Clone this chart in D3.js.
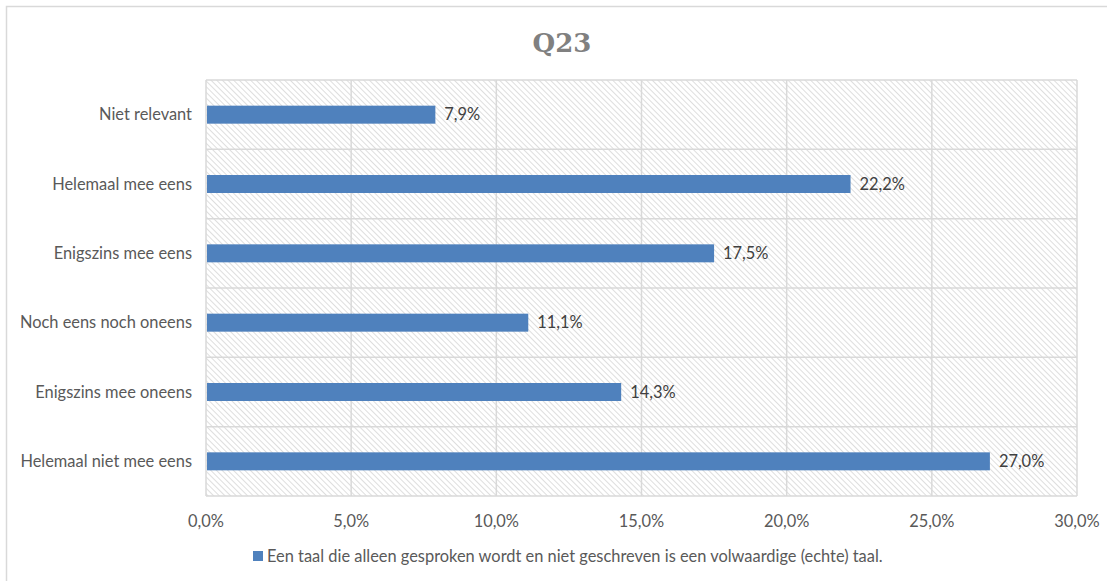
<!DOCTYPE html>
<html>
<head>
<meta charset="utf-8">
<script src="https://cdn.jsdelivr.net/npm/d3@7"></script>
<style>
  html, body { margin: 0; padding: 0; background: #fff; }
  svg { display: block; }
</style>
</head>
<body>
<svg id="chart" width="1107" height="581"></svg>
<script>
// Survey answers to Q23 (top to bottom) and their shares in percent
const categories = [
  "Niet relevant",
  "Helemaal mee eens",
  "Enigszins mee eens",
  "Noch eens noch oneens",
  "Enigszins mee oneens",
  "Helemaal niet mee eens"
];
const values = [7.9, 22.2, 17.5, 11.1, 14.3, 27.0];
const xTicks = [0, 5, 10, 15, 20, 25, 30];
const seriesName = "Een taal die alleen gesproken wordt en niet geschreven is een volwaardige (echte) taal.";
const chartTitle = "Q23";

const svg = d3.select("#chart");
const W = 1107, H = 581;
const plot = { left: 206, top: 80, right: 1077, bottom: 496 };
const labelFont = "Lato, 'Open Sans', sans-serif";
const fs = 16.4;
const fmt = v => d3.format(".1f")(v).replace(".", ",") + "%";

// Outer chart frame
svg.append("rect")
  .attr("x", 6.5).attr("y", 6.5)
  .attr("width", W + 10).attr("height", H + 10)
  .attr("fill", "none").attr("stroke", "#d9d9d9").attr("stroke-width", 1.5);

// Diagonal hatch for the plot background
const defs = svg.append("defs");
const pat = defs.append("pattern")
  .attr("id", "hatch")
  .attr("patternUnits", "userSpaceOnUse")
  .attr("width", 4).attr("height", 4)
  .attr("patternTransform", "rotate(-45)");
pat.append("rect").attr("width", 4).attr("height", 4).attr("fill", "#ffffff");
pat.append("line")
  .attr("x1", 0).attr("y1", 0).attr("x2", 0).attr("y2", 4)
  .attr("stroke", "#d6d6d6").attr("stroke-width", 1.6);

const x = d3.scaleLinear().domain([0, 30]).range([plot.left, plot.right]);
const y = d3.scaleBand().domain(categories).range([plot.top, plot.bottom]).paddingInner(0).paddingOuter(0);
const barH = 18;

svg.append("rect")
  .attr("x", plot.left).attr("y", plot.top)
  .attr("width", plot.right - plot.left).attr("height", plot.bottom - plot.top)
  .attr("fill", "url(#hatch)");

// Vertical gridlines
svg.append("g")
  .selectAll("line")
  .data(xTicks)
  .join("line")
  .attr("x1", d => x(d)).attr("x2", d => x(d))
  .attr("y1", plot.top).attr("y2", plot.bottom)
  .attr("stroke", "#d9d9d9").attr("stroke-width", 1.5);

// Horizontal gridlines at category boundaries
const bounds = categories.map(c => y(c)).concat([plot.bottom]);
svg.append("g")
  .selectAll("line")
  .data(bounds)
  .join("line")
  .attr("x1", plot.left).attr("x2", plot.right)
  .attr("y1", d => d).attr("y2", d => d)
  .attr("stroke", "#d9d9d9").attr("stroke-width", 1.5);

// Bars
svg.append("g")
  .selectAll("rect")
  .data(categories)
  .join("rect")
  .attr("x", x(0) + 1)
  .attr("y", d => y(d) + y.bandwidth() / 2 - barH / 2)
  .attr("width", (d, i) => x(values[i]) - x(0) - 1)
  .attr("height", barH)
  .attr("fill", "#4f81bd");

// Value labels
svg.append("g")
  .selectAll("text")
  .data(categories)
  .join("text")
  .attr("x", (d, i) => x(values[i]) + 9)
  .attr("y", d => y(d) + y.bandwidth() / 2)
  .attr("dy", "0.35em")
  .attr("font-family", labelFont)
  .attr("font-size", fs)
  .attr("fill", "#404040")
  .text((d, i) => fmt(values[i]));

// Category axis labels
svg.append("g")
  .selectAll("text")
  .data(categories)
  .join("text")
  .attr("x", plot.left - 14)
  .attr("y", d => y(d) + y.bandwidth() / 2)
  .attr("dy", "0.35em")
  .attr("text-anchor", "end")
  .attr("font-family", labelFont)
  .attr("font-size", fs)
  .attr("fill", "#595959")
  .text(d => d);

// Value axis tick labels
svg.append("g")
  .selectAll("text")
  .data(xTicks)
  .join("text")
  .attr("x", d => x(d))
  .attr("y", 521)
  .attr("dy", "0.35em")
  .attr("text-anchor", "middle")
  .attr("font-family", labelFont)
  .attr("font-size", fs)
  .attr("fill", "#595959")
  .text(d => fmt(d));

// Title
svg.append("text")
  .attr("x", 562).attr("y", 43)
  .attr("dy", "0.35em")
  .attr("text-anchor", "middle")
  .attr("font-family", "'DejaVu Serif', 'Liberation Serif', serif")
  .attr("font-weight", "bold")
  .attr("font-size", 26)
  .attr("fill", "#808080")
  .text(chartTitle);

// Legend
const legend = svg.append("g").attr("transform", "translate(253,556)");
legend.append("rect").attr("x", 0).attr("y", -5).attr("width", 10).attr("height", 10).attr("fill", "#4f81bd");
legend.append("text")
  .attr("x", 14).attr("y", 0).attr("dy", "0.35em")
  .attr("font-family", labelFont)
  .attr("font-size", fs)
  .attr("fill", "#595959")
  .text(seriesName);
</script>
</body>
</html>
